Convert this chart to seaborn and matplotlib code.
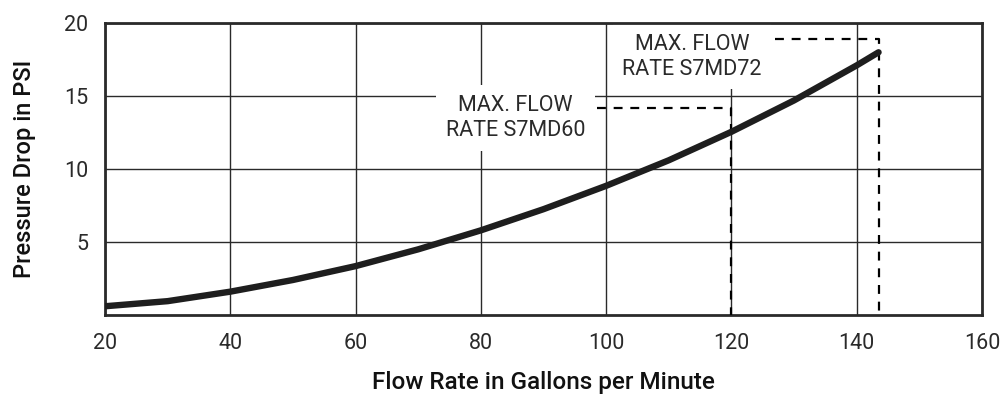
import pandas as pd
import seaborn as sns
import matplotlib.pyplot as plt

# Pressure drop curve
flow_gpm = [20, 30, 40, 50, 60, 70, 80, 90, 100, 110, 120, 130, 140, 143.5]
drop_psi = [0.6, 0.95, 1.6, 2.4, 3.35, 4.5, 5.8, 7.25, 8.85, 10.6, 12.55, 14.7, 17.1, 18.0]

# Max flow markers (S7MD60, S7MD72)
models = ["S7MD60", "S7MD72"]
max_flow = [120, 143.5]
marker_level = [14.2, 18.9]
leader_start = [98.6, 127.0]
label_x = [85.5, 113.7]
label_y = [13.5, 17.7]

x_ticks = [20, 40, 60, 80, 100, 120, 140, 160]
y_ticks = [5, 10, 15, 20]

sns.set_style("white")
plt.rcParams["font.family"] = ["Roboto", "DejaVu Sans"]

fig = plt.figure(figsize=(10.04, 3.98), dpi=100)
ax = fig.add_axes([0.1046, 0.2085, 0.8734, 0.7335])

curve_df = pd.DataFrame({"flow": flow_gpm, "drop": drop_psi})
sns.lineplot(data=curve_df, x="flow", y="drop", color="#1e1e1e", lw=4.6,
             solid_capstyle="round", ax=ax, zorder=4)

# Dashed max-flow leaders
for i in range(len(models)):
    ax.plot([leader_start[i], max_flow[i], max_flow[i]],
            [marker_level[i], marker_level[i], 0],
            color="black", lw=1.6, ls=(0, (4, 3.5)), zorder=3)
    ax.text(label_x[i], label_y[i], f"MAX. FLOW\nRATE {models[i]}",
            ha="center", va="center", fontsize=15.5, color="#2a2a2a",
            linespacing=1.25, zorder=2,
            bbox=dict(facecolor="white", edgecolor="none", pad=7))

ax.set_xlim(20, 160)
ax.set_ylim(0, 20)
ax.set_xticks(x_ticks)
ax.set_yticks(y_ticks)
ax.grid(True, color="#2a2a2a", lw=1.0, zorder=0)
ax.set_axisbelow(True)
for s in ax.spines.values():
    s.set_color("#2a2a2a")
    s.set_linewidth(2.0)
ax.tick_params(length=0, labelsize=15.5, colors="#2a2a2a")
ax.tick_params(axis="x", pad=13)
ax.tick_params(axis="y", pad=12)

ax.set_xlabel("Flow Rate in Gallons per Minute", fontsize=17.5, fontweight="medium",
              color="#111111", labelpad=12)
ax.set_ylabel("Pressure Drop in PSI", fontsize=17, fontweight="medium",
              color="#111111", labelpad=20)

fig.savefig("out.png", dpi=100)
